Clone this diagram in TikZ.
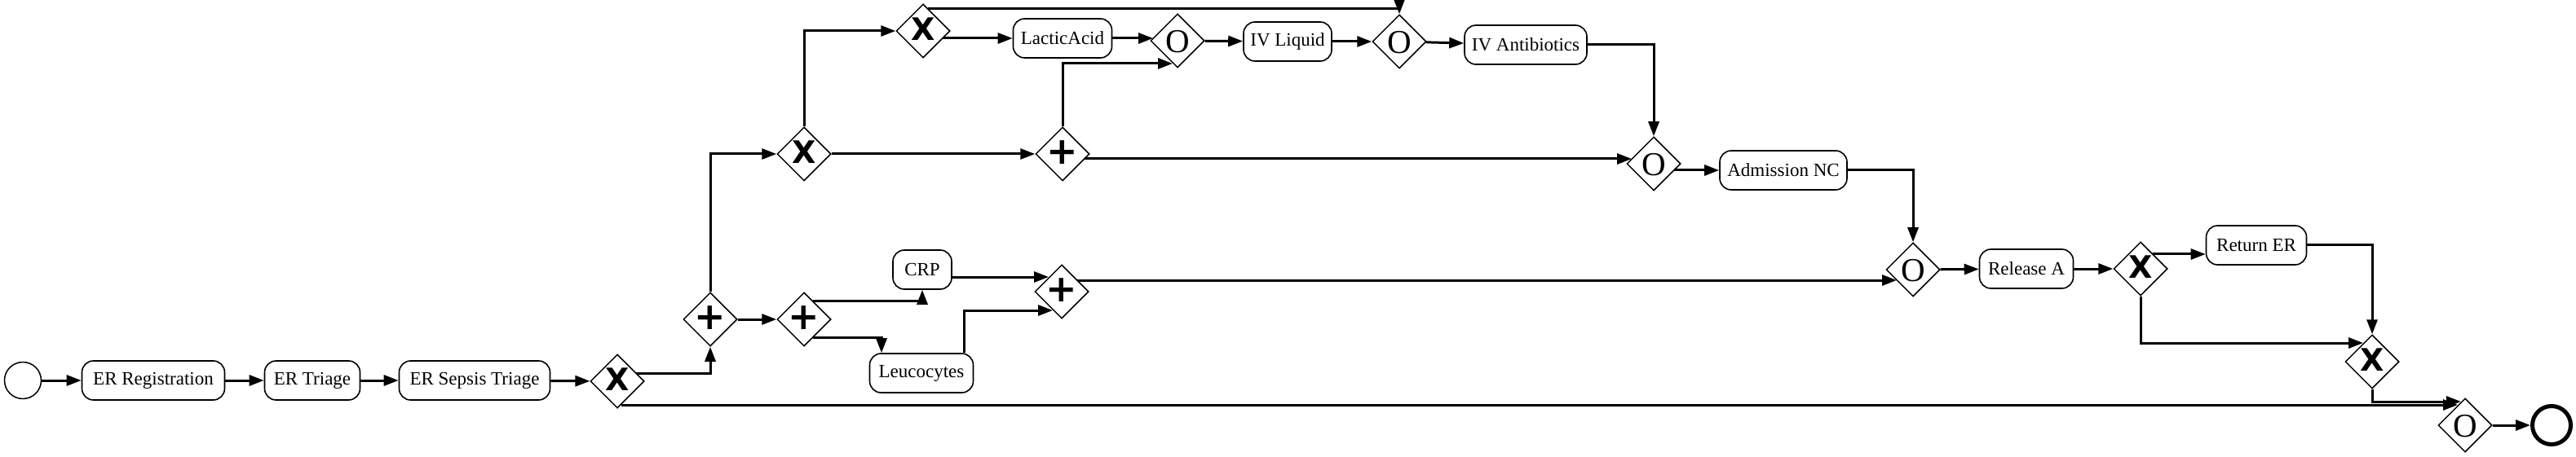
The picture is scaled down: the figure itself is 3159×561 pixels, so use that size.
\documentclass[tikz,border=0pt]{standalone}
\usepackage{fontspec}
\setmainfont{Liberation Serif}
\newfontfamily\markfont{DejaVu Sans}
\usetikzlibrary{shapes.geometric,arrows.meta,calc}
\tikzset{
  task/.style={draw, rounded corners=14pt, line width=1.6pt, minimum height=48pt, inner sep=0pt, font=\fontsize{23}{27}\selectfont},
  gw/.style={draw, diamond, minimum width=66pt, minimum height=66pt, inner sep=0pt, line width=1.5pt},
  mx/.style={font=\markfont\bfseries\fontsize{38}{40}\selectfont, inner sep=0pt, yshift=2pt},
  mp/.style={font=\markfont\bfseries\fontsize{46}{50}\selectfont, inner sep=0pt, yshift=2pt},
  mo/.style={font=\fontsize{41}{42}\selectfont, inner sep=0pt, yshift=-1pt},
  xgw/.style={gw, label={[mx]center:X}},
  pgw/.style={gw, label={[mp]center:+}},
  ogw/.style={gw, label={[mo]center:O}},
  flow/.style={line width=3pt, -{Triangle[length=18pt,width=13pt]}},
}
\begin{document}
\begin{tikzpicture}[x=1pt,y=-1pt]
\useasboundingbox (0,0) rectangle (3159,561);
% events
\node[circle, draw, line width=1.5pt, minimum size=45pt, inner sep=0pt] (start) at (28,467) {};
\node[circle, draw, line width=5pt, minimum size=47pt, inner sep=0pt] (end) at (3129,522) {};
% tasks
\node[task, minimum width=175pt] (t1) at (188,467) {ER Registration};
\node[task, minimum width=117pt] (t2) at (383,467) {ER Triage};
\node[task, minimum width=185pt] (t3) at (582,467) {ER Sepsis Triage};
\node[task, minimum width=72pt] (crp) at (1131,331) {CRP};
\node[task, minimum width=127pt] (leu) at (1130,458) {Leucocytes};
\node[task, minimum width=121pt] (lac) at (1303,47) {LacticAcid};
\node[task, minimum width=108pt] (ivl) at (1579,51) {IV Liquid};
\node[task, minimum width=150pt] (iva) at (1871,55) {IV Antibiotics};
\node[task, minimum width=156pt] (adm) at (2187,209) {Admission NC};
\node[task, minimum width=115pt] (rel) at (2485,330) {Release A};
\node[task, minimum width=123pt] (ret) at (2767,301) {Return ER};
% gateways
\node[xgw] (x1) at (757,468) {};
\node[pgw] (p1) at (871,392) {};
\node[pgw] (p2) at (986,392) {};
\node[pgw] (p3) at (1302,358) {};
\node[xgw] (x2) at (986,189) {};
\node[xgw] (x3) at (1132,38) {};
\node[ogw] (o1) at (1444,50) {};
\node[pgw] (p4) at (1303,189) {};
\node[ogw] (o2) at (1716,51) {};
\node[ogw] (o3) at (2028,201) {};
\node[ogw] (o4) at (2346,331) {};
\node[xgw] (x4) at (2625,330) {};
\node[xgw] (x5) at (2909,444) {};
\node[ogw] (o5) at (3023,522) {};
% flows
\draw[flow] (start) -- (t1);
\draw[flow] (t1) -- (t2);
\draw[flow] (t2) -- (t3);
\draw[flow] (t3) -- (x1);
\draw[flow] ($(x1.center)+(23,-10)$) -| (p1.south);
\draw[flow] ($(x1.center)+(5,29)$) -- ($(o5.center)+(-9,-25)$);
\draw[flow] (p1) -- (p2);
\draw[flow] ($(p2.center)+(11,-23)$) -| (crp.south);
\draw[flow] ($(p2.center)+(11,22)$) -| ($(leu.north)+(-49,0)$);
\draw[flow] ($(crp.east)+(0,9)$) -- ($(p3.center)+(-16,-18)$);
\draw[flow] ($(leu.north)+(52,0)$) |- ($(p3.center)+(-11,23)$);
\draw[flow] ($(p3.center)+(19,-14)$) -- ($(o4.center)+(-20,13)$);
\draw[flow] (p1.north) |- (x2.west);
\draw[flow] (x2.north) |- (x3.west);
\draw[flow] (x2) -- (p4);
\draw[flow] ($(x3.center)+(24,9)$) -- (lac.west);
\draw[flow] ($(x3.center)+(6,-27)$) -| (o2.north);
\draw[flow] (lac.east) -- ($(o1.center)+(-30,-3)$);
\draw[flow] (p4.north) |- ($(o1.center)+(-6,28)$);
\draw[flow] (o1) -- (ivl);
\draw[flow] (ivl) -- (o2);
\draw[flow] (o2) -- (iva);
\draw[flow] (iva.east) -| (o3.north);
\draw[flow] ($(p4.center)+(27,6)$) -- ($(o3.center)+(-27,-6)$);
\draw[flow] ($(o3.center)+(25,8)$) -- (adm.west);
\draw[flow] (adm.east) -| (o4.north);
\draw[flow] (o4) -- (rel);
\draw[flow] (rel) -- (x4);
\draw[flow] ($(x4.center)+(15,-18)$) -- ($(ret.west)+(0,11)$);
\draw[flow] (x4.south) |- ($(x5.center)+(-11,-23)$);
\draw[flow] (ret.east) -| (x5.north);
\draw[flow] (x5.south) |- ($(o5.center)+(-5,-29)$);
\draw[flow] (o5) -- (end);
\end{tikzpicture}
\end{document}
